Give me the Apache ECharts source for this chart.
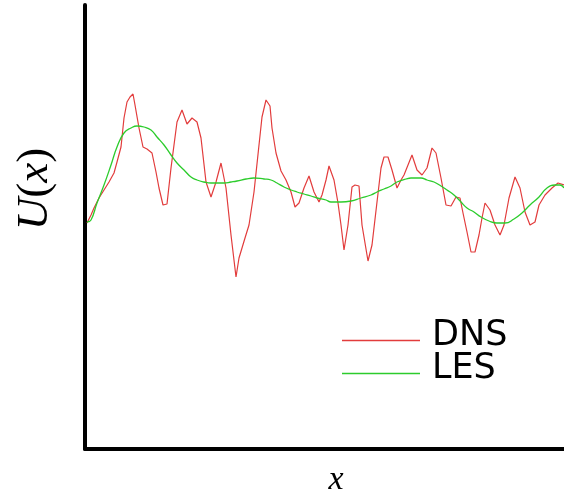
<!DOCTYPE html>
<html>
<head>
<meta charset="utf-8">
<script src="https://cdn.jsdelivr.net/npm/echarts@6/dist/echarts.min.js"></script>
<style>
  html, body { margin: 0; padding: 0; background: #fff; }
  #chart { width: 564px; height: 492px; }
</style>
</head>
<body>
<div id="chart"></div>
<script>
// DNS velocity profile (fine, resolved signal)
const xDNS = [0.2, 0.6, 0.9, 1.4, 1.9, 2.4, 2.9, 3.2, 3.6, 3.9, 4.2, 4.5, 4.8, 5.0, 5.4, 5.8, 6.2, 6.7, 7.1, 7.4,
  7.8, 8.2, 8.6, 8.9, 9.2, 9.7, 10.2, 10.7, 11.2, 11.6, 12.1, 12.6, 13.1, 13.6, 14.1, 14.6, 15.1, 15.4, 15.7, 16.0,
  16.4, 16.9, 17.4, 17.7, 18.1, 18.5, 18.7, 19.1, 19.6, 20.1, 20.6, 21.0, 21.4, 21.9, 22.4, 22.9, 23.4, 23.7, 24.1, 24.4,
  24.9, 25.3, 25.6, 25.9, 26.3, 26.7, 27.0, 27.4, 27.7, 28.3, 28.7, 29.2, 29.6, 29.9, 30.3, 30.7, 31.2, 31.6, 31.9, 32.3,
  32.7, 33.2, 33.7, 34.2, 34.7, 35.1, 35.6, 36.1, 36.6, 37.1, 37.5, 37.8, 38.2, 38.6, 39.0, 39.4, 39.7, 40.0, 40.5, 41.0,
  41.5, 41.9, 42.4, 43.0, 43.5, 44.0, 44.5, 45.0, 45.4, 46.0, 46.7, 47.3, 47.9];
const uDNS = [2.26, 2.34, 2.41, 2.51, 2.59, 2.67, 2.76, 2.87, 3.02, 3.31, 3.47, 3.52, 3.55, 3.44, 3.21, 3.02, 3.00, 2.96, 2.77, 2.61,
  2.44, 2.45, 2.81, 3.04, 3.27, 3.39, 3.25, 3.31, 3.27, 3.11, 2.67, 2.52, 2.67, 2.86, 2.61, 2.14, 1.72, 1.91, 2.01, 2.11,
  2.24, 2.57, 3.04, 3.32, 3.49, 3.43, 3.21, 2.96, 2.78, 2.69, 2.57, 2.42, 2.46, 2.61, 2.73, 2.57, 2.47, 2.54, 2.69, 2.83,
  2.69, 2.46, 2.24, 1.99, 2.24, 2.62, 2.64, 2.63, 2.24, 1.88, 2.04, 2.47, 2.81, 2.92, 2.92, 2.79, 2.61, 2.69, 2.74, 2.84,
  2.94, 2.79, 2.74, 2.81, 3.01, 2.96, 2.71, 2.44, 2.43, 2.52, 2.51, 2.36, 2.17, 1.97, 1.97, 2.14, 2.31, 2.46, 2.39, 2.24,
  2.14, 2.24, 2.51, 2.72, 2.61, 2.37, 2.24, 2.27, 2.44, 2.54, 2.61, 2.66, 2.64];

// LES velocity profile (filtered, smooth signal)
const xLES = [0.2, 0.6, 1.2, 1.9, 2.6, 3.2, 3.9, 4.6, 5.2, 5.9, 6.6, 7.2, 7.9, 8.6, 9.2, 9.9, 10.6, 11.2, 11.9, 12.6,
  13.2, 13.9, 14.6, 15.2, 16.1, 16.9, 17.9, 18.6, 19.2, 19.9, 20.6, 21.2, 21.9, 22.6, 23.2, 24.1, 24.6, 25.6, 26.6, 27.6,
  28.6, 29.2, 29.9, 30.6, 31.2, 32.1, 32.6, 33.6, 34.2, 34.9, 35.6, 36.2, 36.9, 37.6, 38.2, 38.9, 39.6, 40.4, 41.2, 42.0,
  42.9, 43.7, 44.5, 45.4, 46.2, 47.0, 47.5, 47.9];
const uLES = [2.27, 2.29, 2.46, 2.64, 2.84, 3.02, 3.16, 3.21, 3.23, 3.22, 3.19, 3.12, 3.04, 2.94, 2.86, 2.79, 2.72, 2.69, 2.67, 2.66,
  2.66, 2.66, 2.67, 2.68, 2.70, 2.71, 2.70, 2.69, 2.66, 2.62, 2.59, 2.57, 2.55, 2.53, 2.51, 2.49, 2.47, 2.47, 2.48, 2.51,
  2.54, 2.57, 2.60, 2.63, 2.67, 2.70, 2.71, 2.71, 2.69, 2.67, 2.63, 2.59, 2.54, 2.47, 2.41, 2.37, 2.32, 2.28, 2.26, 2.26,
  2.30, 2.36, 2.44, 2.52, 2.61, 2.64, 2.64, 2.61];

const seriesNames = ['DNS', 'LES'];
const seriesColors = ['#e23c3c', '#2ccc2c'];

const pairs = (xs, ys) => xs.map((x, i) => [x, ys[i]]);

const chart = echarts.init(document.getElementById('chart'), null, { renderer: 'canvas' });

chart.setOption({
  animation: false,
  backgroundColor: '#ffffff',
  grid: { left: 85, top: 5, width: 479, height: 444 },
  xAxis: {
    type: 'value', min: 0, max: 47.9,
    axisLine: { show: true, onZero: false, lineStyle: { color: '#000', width: 4 } },
    axisTick: { show: false }, axisLabel: { show: false }, splitLine: { show: false }
  },
  yAxis: {
    type: 'value', min: 0, max: 4.44,
    axisLine: { show: true, onZero: false, lineStyle: { color: '#000', width: 4 } },
    axisTick: { show: false }, axisLabel: { show: false }, splitLine: { show: false }
  },
  legend: {
    orient: 'vertical',
    left: 337, top: 313,
    icon: 'rect',
    itemWidth: 78, itemHeight: 1.4,
    itemGap: -12,
    formatter: (name) => '{t|' + name + '}',
    textStyle: {
      rich: {
        t: {
          fontFamily: 'DejaVu Sans', fontSize: 35, lineHeight: 35, color: '#000',
          padding: [0, 0, 10, 7]
        }
      }
    },
    data: seriesNames.map((n, i) => ({ name: n, itemStyle: { color: seriesColors[i] } }))
  },
  series: [
    {
      name: seriesNames[0], type: 'line', data: pairs(xDNS, uDNS),
      symbol: 'none', lineStyle: { color: seriesColors[0], width: 1.2 }, itemStyle: { color: seriesColors[0] },
      z: 2
    },
    {
      name: seriesNames[1], type: 'line', data: pairs(xLES, uLES), smooth: 0.5,
      symbol: 'none', lineStyle: { color: seriesColors[1], width: 1.3 }, itemStyle: { color: seriesColors[1] },
      z: 3
    }
  ],
  graphic: [
    {
      type: 'text', x: 35, y: 189, rotation: Math.PI / 2,
      style: {
        text: '{i|U}{n|(}{i|x}{n|)}',
        align: 'center', verticalAlign: 'middle',
        rich: {
          i: { fontFamily: 'Liberation Serif', fontStyle: 'italic', fontSize: 45, fill: '#000' },
          n: { fontFamily: 'Liberation Serif', fontSize: 45, fill: '#000' }
        }
      }
    },
    {
      type: 'text', x: 336, y: 480,
      style: {
        text: 'x', align: 'center', verticalAlign: 'middle',
        fontFamily: 'Liberation Serif', fontStyle: 'italic', fontSize: 34, fill: '#000'
      }
    }
  ]
});
</script>
</body>
</html>
